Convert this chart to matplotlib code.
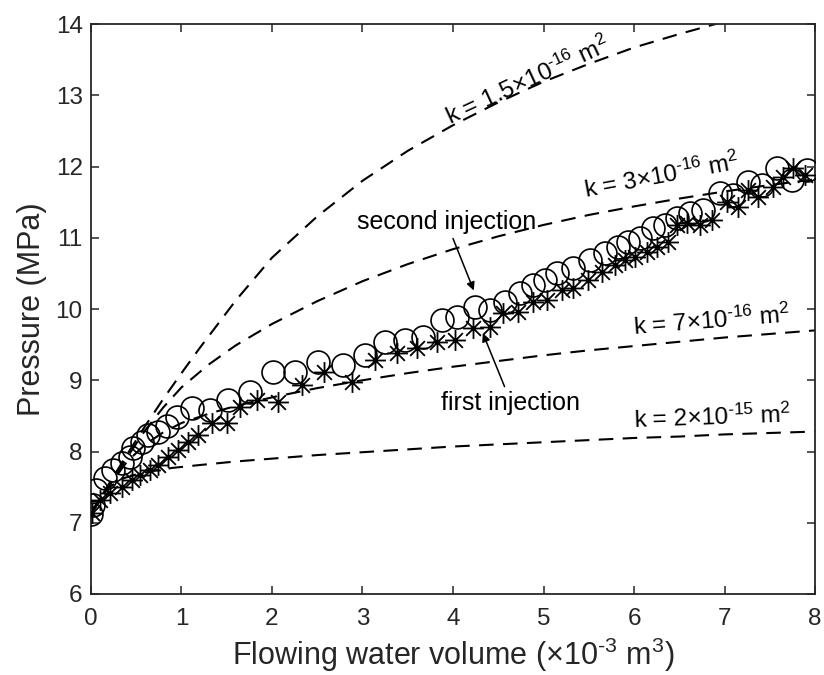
import matplotlib
matplotlib.use("Agg")
import matplotlib.pyplot as plt
from matplotlib.path import Path

plt.rcParams['font.family'] = ['Liberation Sans', 'DejaVu Sans']
plt.rcParams['mathtext.fontset'] = 'custom'
plt.rcParams['mathtext.rm'] = 'Liberation Sans'
plt.rcParams['mathtext.it'] = 'Liberation Sans:italic'
plt.rcParams['mathtext.bf'] = 'Liberation Sans:bold'

# ---- data: second injection (circles) ----
x_second = [0.0, 0.02, 0.06, 0.15, 0.24, 0.34, 0.43, 0.46, 0.56, 0.63, 0.74, 0.84, 0.95,
            1.12, 1.31, 1.51, 1.76, 2.01, 2.25, 2.51, 2.78, 3.03, 3.25, 3.47, 3.67, 3.88,
            4.04, 4.24, 4.41, 4.57, 4.74, 4.88, 5.02, 5.15, 5.33, 5.51, 5.68, 5.82, 5.93,
            6.07, 6.21, 6.34, 6.47, 6.62, 6.76, 6.95, 7.09, 7.26, 7.41, 7.58, 7.75, 7.91]
y_second = [7.12, 7.25, 7.46, 7.63, 7.74, 7.84, 7.92, 8.05, 8.13, 8.23, 8.27, 8.36, 8.48,
            8.61, 8.58, 8.72, 8.84, 9.12, 9.12, 9.26, 9.21, 9.35, 9.54, 9.56, 9.61, 9.85,
            9.89, 10.03, 9.99, 10.10, 10.22, 10.34, 10.41, 10.50, 10.58, 10.69, 10.79, 10.87, 10.94,
            11.00, 11.14, 11.18, 11.28, 11.35, 11.39, 11.63, 11.60, 11.78, 11.74, 11.98, 11.81, 11.95]

# ---- data: first injection (asterisks) ----
x_first = [0.01, 0.10, 0.21, 0.34, 0.45, 0.54, 0.65, 0.74, 0.85, 0.96, 1.07, 1.18, 1.34,
           1.50, 1.65, 1.83, 2.07, 2.33, 2.58, 2.88, 3.14, 3.38, 3.60, 3.82, 4.02, 4.22,
           4.41, 4.55, 4.72, 4.88, 5.04, 5.20, 5.33, 5.49, 5.65, 5.79, 5.90, 6.01, 6.14,
           6.25, 6.38, 6.47, 6.59, 6.73, 6.86, 7.03, 7.15, 7.26, 7.37, 7.54, 7.65, 7.76, 7.89]
y_first = [7.14, 7.32, 7.42, 7.50, 7.60, 7.67, 7.74, 7.81, 7.92, 8.02, 8.13, 8.23, 8.40,
           8.40, 8.62, 8.72, 8.70, 8.94, 9.11, 8.98, 9.28, 9.38, 9.45, 9.54, 9.57, 9.73,
           9.75, 9.94, 9.96, 10.10, 10.13, 10.27, 10.29, 10.41, 10.52, 10.62, 10.69, 10.73, 10.80,
           10.87, 10.94, 11.18, 11.21, 11.18, 11.25, 11.50, 11.43, 11.67, 11.57, 11.71, 11.85, 11.98, 11.88]

# ---- model curves ----
x_k15 = [0.0, 0.2, 0.4, 0.6, 0.8, 1.0, 1.2, 1.6, 2.0, 2.5, 3.0, 3.5, 4.0, 4.5, 5.0, 5.5, 6.0, 6.5, 6.9, 7.0]
y_k15 = [7.12, 7.55, 7.96, 8.36, 8.74, 9.10, 9.45, 10.12, 10.72, 11.30, 11.80, 12.22, 12.58,
         12.90, 13.19, 13.44, 13.67, 13.86, 14.00, 14.04]
x_k3 = [0.0, 0.2, 0.4, 0.6, 0.8, 1.0, 1.3, 1.6, 2.0, 2.5, 3.0, 3.5, 4.0, 4.5, 5.0, 5.5,
        6.0, 6.5, 7.0, 7.5, 8.0]
y_k3 = [7.12, 7.52, 7.92, 8.30, 8.62, 8.90, 9.22, 9.49, 9.79, 10.11, 10.39, 10.63, 10.84,
        11.02, 11.18, 11.32, 11.44, 11.55, 11.65, 11.74, 11.82]
x_k7 = [0.0, 0.2, 0.4, 0.6, 0.8, 1.0, 1.3, 1.6, 2.0, 2.5, 3.0, 3.5, 4.0, 4.5, 5.0, 5.5,
        6.0, 6.5, 7.0, 7.5, 8.0]
y_k7 = [7.12, 7.52, 7.86, 8.10, 8.27, 8.40, 8.53, 8.64, 8.76, 8.89, 9.00, 9.10, 9.19,
        9.27, 9.35, 9.42, 9.48, 9.54, 9.60, 9.65, 9.70]
x_k20 = [0.0, 0.1, 0.2, 0.35, 0.5, 0.7, 0.9, 1.2, 1.6, 2.0, 2.5, 3.0, 3.5, 4.0, 4.5, 5.0,
         5.5, 6.0, 6.5, 7.0, 7.5, 8.0]
y_k20 = [7.12, 7.35, 7.50, 7.62, 7.68, 7.73, 7.77, 7.81, 7.86, 7.90, 7.95, 7.99, 8.03,
         8.07, 8.10, 8.13, 8.16, 8.19, 8.21, 8.24, 8.26, 8.28]

x_ticks = [0, 1, 2, 3, 4, 5, 6, 7, 8]
y_ticks = [6, 7, 8, 9, 10, 11, 12, 13, 14]

# asterisk marker (MATLAB style)
d = 0.7071
ast_verts = [(-1, 0), (1, 0), (0, -1), (0, 1), (-d, -d), (d, d), (-d, d), (d, -d)]
ast_codes = [Path.MOVETO, Path.LINETO] * 4
asterisk = Path(ast_verts, ast_codes)

fig = plt.figure(figsize=(8.24, 6.75), dpi=100)
ax = fig.add_axes([0.1104, 0.12, 0.8787, 0.8444])

dash_kw = dict(color='black', lw=1.5, dashes=(7, 4.5), zorder=1)
ax.plot(x_k15, y_k15, **dash_kw)
ax.plot(x_k3, y_k3, **dash_kw)
ax.plot(x_k7, y_k7, **dash_kw)
ax.plot(x_k20, y_k20, **dash_kw)

ax.plot(x_second, y_second, linestyle='none', marker='o', markersize=16.5,
        markerfacecolor='none', markeredgecolor='black', markeredgewidth=1.2, zorder=3)
ax.plot(x_first, y_first, linestyle='none', marker=asterisk, markersize=15,
        markerfacecolor='none', markeredgecolor='black', markeredgewidth=1.3, zorder=3)

ax.set_xlim(0, 8)
ax.set_ylim(6, 14)
ax.set_xticks(x_ticks)
ax.set_yticks(y_ticks)
gray = '#262626'
ax.tick_params(direction='in', length=6, width=1.1, top=True, right=True,
               labelsize=17.5, colors=gray, pad=6)
ax.tick_params(axis='x', pad=10)
for s in ax.spines.values():
    s.set_linewidth(1.3)
    s.set_color(gray)

ax.set_xlabel(r'Flowing water volume (×10$^{\text{-3}}$ m$^{3}$)', fontsize=22, color=gray, labelpad=4)
ax.set_ylabel('Pressure (MPa)', fontsize=22, color=gray, labelpad=6)

lab_kw = dict(fontsize=17.5, color='black', ha='left', va='baseline', rotation_mode='anchor')
ax.text(3.97, 12.58, r'k = 1.5×10$^{\text{-16}}$ m$^{2}$', rotation=24.8, **lab_kw)
ax.text(5.47, 11.56, r'k = 3×10$^{\text{-16}}$ m$^{2}$', rotation=10.5, **lab_kw)
ax.text(6.00, 9.63, r'k = 7×10$^{\text{-16}}$ m$^{2}$', rotation=4.6, **lab_kw)
ax.text(6.00, 8.33, r'k = 2×10$^{\text{-15}}$ m$^{2}$', rotation=2.0, **lab_kw)

ax.text(3.93, 11.22, 'second injection', fontsize=18, ha='center', va='center', color='black')
ax.text(4.63, 8.68, 'first injection', fontsize=18, ha='center', va='center', color='black')

arrow_kw = dict(arrowstyle='-|>', color='black', lw=1.1, mutation_scale=12,
                shrinkA=0, shrinkB=0)
ax.annotate('', xy=(4.23, 10.26), xytext=(4.00, 10.99), arrowprops=arrow_kw)
ax.annotate('', xy=(4.33, 9.66), xytext=(4.57, 8.91), arrowprops=arrow_kw)

fig.savefig('out.png', dpi=100)
